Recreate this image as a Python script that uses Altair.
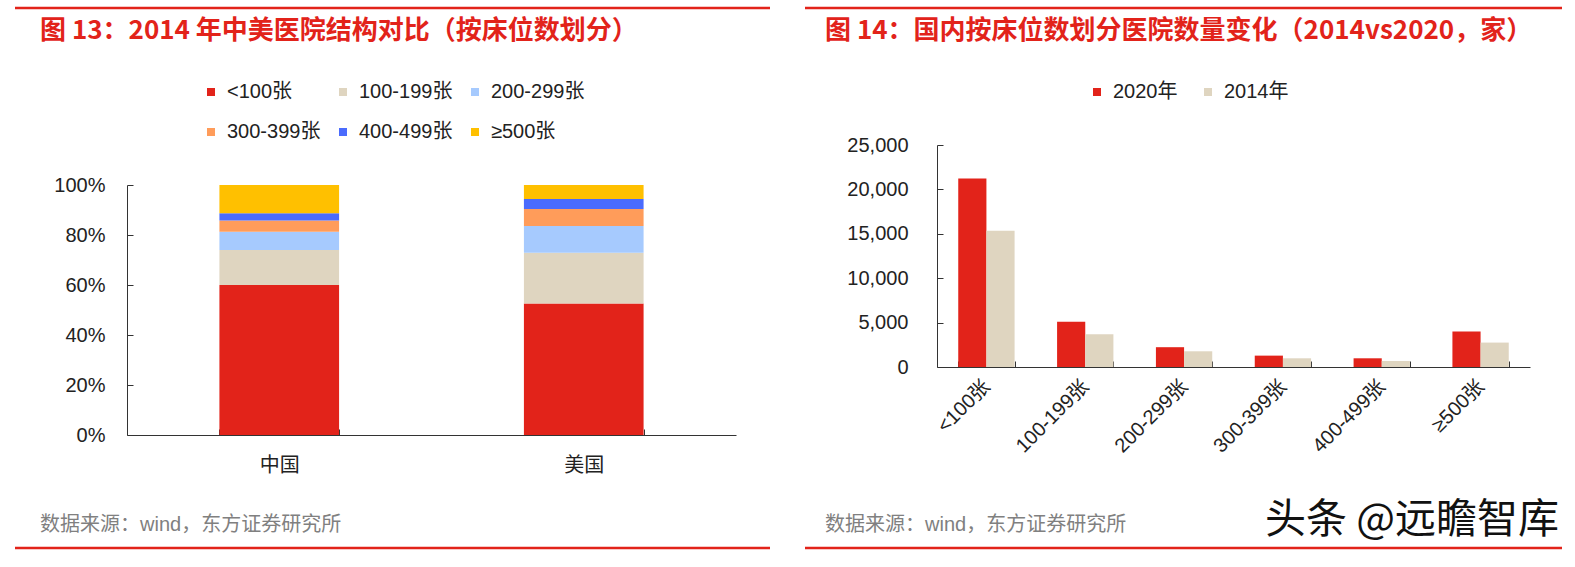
import altair as alt
import pandas as pd

# ---------------- data ----------------
bed_bands = ["<100张", "100-199张", "200-299张", "300-399张", "400-499张", "≥500张"]
band_colors = ["#E2231A", "#DFD5C0", "#A6CAFE", "#FF9C5A", "#4A6BFD", "#FFC000"]
countries = ["中国", "美国"]
china_share = [60.0, 14.0, 7.3, 4.5, 2.9, 11.3]
usa_share = [52.6, 20.3, 10.7, 6.8, 4.0, 5.6]

years = ["2020年", "2014年"]
year_colors = ["#E2231A", "#DFD5C0"]
hosp_2020 = [21230, 5090, 2230, 1280, 980, 4000]
hosp_2014 = [15350, 3700, 1770, 980, 680, 2750]

left_title = "图 13：2014 年中美医院结构对比（按床位数划分）"
right_title = "图 14：国内按床位数划分医院数量变化（2014vs2020，家）"
source_text = "数据来源：wind，东方证券研究所"
watermark = "头条 @远瞻智库"
pct_ticks = [0, 20, 40, 60, 80, 100]
count_ticks = [0, 5000, 10000, 15000, 20000, 25000]

# ---------------- tables ----------------
rows = []
for c, shares in zip(countries, [china_share, usa_share]):
    for i, (b, s) in enumerate(zip(bed_bands, shares)):
        rows.append({"country": c, "band": b, "share": s, "idx": i})
df_left = pd.DataFrame(rows)

rows = []
for y, vals in zip(years, [hosp_2020, hosp_2014]):
    for b, v in zip(bed_bands, vals):
        rows.append({"cat": b, "year": y, "count": v})
df_right = pd.DataFrame(rows)

one = pd.DataFrame({"k": [0]})

LAT = "Liberation Sans, Noto Sans CJK SC"
CJK = "Noto Sans CJK SC"
RED = "#E2231A"
AX = "#333333"
W, H = 1575, 567

# ---------------- left: stacked percent bars ----------------
left = alt.Chart(df_left).mark_bar().encode(
    x=alt.X("country:N", sort=countries, title=None,
            scale=alt.Scale(range=[127, 736], paddingInner=0.607, paddingOuter=0.3035),
            axis=alt.Axis(orient="bottom", offset=435 - H, tickBand="extent",
                          tickSize={"expr": "-6"}, tickColor=AX, domainColor=AX,
                          labelPadding=26, labelFont=LAT, labelFontSize=20,
                          labelColor="#222", labelAngle=0)),
    y=alt.Y("share:Q", stack="zero", title=None,
            scale=alt.Scale(domain=[0, 100], range=[435, 185], nice=False),
            axis=alt.Axis(orient="left", offset=-127, values=pct_ticks,
                          labelExpr="datum.value + '%'", grid=False,
                          tickSize={"expr": "-6"}, tickColor=AX, domainColor=AX,
                          labelPadding=28, labelFont=LAT, labelFontSize=20,
                          labelColor="#222")),
    color=alt.Color("band:N", sort=bed_bands,
                    scale=alt.Scale(domain=bed_bands, range=band_colors),
                    legend=alt.Legend(title=None, orient="none", legendX=201, legendY=82,
                                      direction="horizontal", columns=3,
                                      symbolType="square", symbolSize=64,
                                      symbolStrokeWidth=0, labelFont=LAT,
                                      labelFontSize=20, labelColor="#222",
                                      columnPadding=12, rowPadding=20, labelOffset=6,
                                      labelLimit=200)),
    order=alt.Order("idx:Q"),
)

# ---------------- right: grouped bars ----------------
right = alt.Chart(df_right).mark_bar().encode(
    x=alt.X("cat:N", sort=bed_bands, title=None,
            scale=alt.Scale(range=[937, 1530], paddingInner=0.43, paddingOuter=0.215),
            axis=alt.Axis(orient="bottom", offset=367 - H, tickBand="extent",
                          tickSize={"expr": "-6"}, tickColor=AX, domainColor=AX,
                          labelPadding=22, labelFont=LAT, labelFontSize=20,
                          labelColor="#222", labelAngle=315, labelAlign="right",
                          labelBaseline="middle")),
    xOffset=alt.XOffset("year:N", sort=years, scale=alt.Scale(domain=years)),
    y=alt.Y("count:Q", title=None,
            scale=alt.Scale(domain=[0, 25000], range=[367, 145], nice=False),
            axis=alt.Axis(orient="left", offset=-937, values=count_ticks,
                          labelExpr="format(datum.value, ',')",
                          grid=False, tickSize={"expr": "-6"}, tickColor=AX,
                          domainColor=AX, labelPadding=35, labelFont=LAT,
                          labelFontSize=20, labelColor="#222")),
    color=alt.Color("year:N", sort=years,
                    scale=alt.Scale(domain=years, range=year_colors),
                    legend=alt.Legend(title=None, orient="none", legendX=1087, legendY=82,
                                      direction="horizontal", symbolType="square",
                                      symbolSize=64, symbolStrokeWidth=0,
                                      labelFont=LAT, labelFontSize=20,
                                      labelColor="#222", columnPadding=20,
                                      labelOffset=6)),
)

# ---------------- decorations ----------------
def hline(x1, x2, y):
    return alt.Chart(one).mark_rule(color=RED, strokeWidth=2.5).encode(
        x=alt.value(x1), x2=alt.value(x2), y=alt.value(y))

def label(txt, x, y, size, color, font, weight="normal", align="left"):
    return alt.Chart(one).mark_text(text=txt, font=font, fontSize=size, color=color,
                                    fontWeight=weight, align=align,
                                    baseline="middle").encode(
        x=alt.value(x), y=alt.value(y))

decor = [
    hline(15, 770, 8), hline(805, 1562, 8),
    hline(15, 770, 548), hline(805, 1562, 548),
    label(left_title, 40, 31, 26, RED, CJK, "bold"),
    label(right_title, 825, 31, 26, RED, CJK, "bold"),
    label(source_text, 40, 525, 20, "#808080", LAT),
    label(source_text, 825, 525, 20, "#808080", LAT),
    label(watermark, 1265, 521, 41, "#111111", CJK),
]

chart = alt.layer(left, right, *decor).resolve_scale(
    x="independent", y="independent", color="independent"
).resolve_legend(color="independent").properties(
    width=W, height=H, autosize=alt.AutoSizeParams(type="none"), padding=0,
    background="white"
).configure_view(stroke=None)

chart.save("out.html", embed_options={"renderer": "svg", "actions": False})
